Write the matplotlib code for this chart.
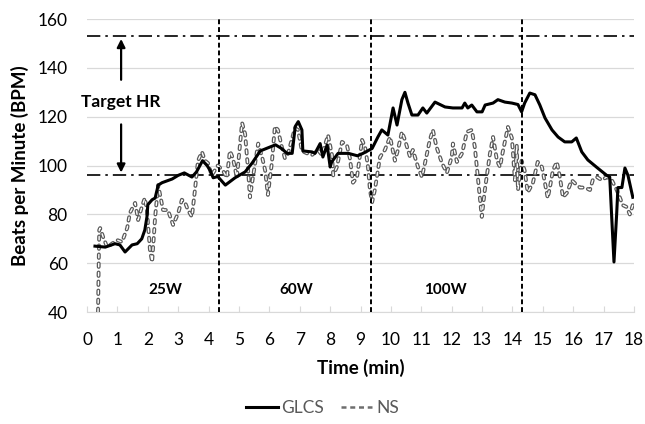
import matplotlib
matplotlib.use("Agg")
import matplotlib.pyplot as plt
import matplotlib.patheffects as pe
from matplotlib.lines import Line2D

plt.rcParams['font.family'] = ['Lato', 'DejaVu Sans']

# GLCS (solid) heart-rate series
glcs_t = [0.26, 0.6, 0.92, 1.08, 1.25, 1.48, 1.65, 1.8, 1.9, 1.97, 2.0, 2.14, 2.24, 2.34, 2.47,
          2.8, 3.0, 3.2, 3.45, 3.6, 3.8, 3.95, 4.05, 4.15, 4.3, 4.55, 4.87, 5.2, 5.43, 5.7,
          5.9, 6.2, 6.4, 6.58, 6.75, 6.85, 6.95, 7.07, 7.1, 7.4, 7.5, 7.67, 7.76, 7.9, 8.0,
          8.05, 8.26, 8.6, 8.9, 9.08, 9.38, 9.57, 9.7, 9.9, 10.07, 10.2, 10.36, 10.46, 10.56,
          10.69, 10.89, 11.05, 11.18, 11.45, 11.78, 12.04, 12.34, 12.43, 12.53, 12.66, 12.83,
          13.0, 13.1, 13.36, 13.52, 13.75, 13.98, 14.18, 14.3, 14.4, 14.57, 14.74, 14.9, 15.07,
          15.3, 15.5, 15.72, 15.95, 16.1, 16.28, 16.48, 16.8, 17.1, 17.2, 17.27, 17.34, 17.43,
          17.47, 17.6, 17.7, 17.8, 17.96]
glcs_hr = [67, 66.6, 68, 67.5, 64.6, 67.5, 68, 70, 73.6, 79, 84, 86, 86.7, 92, 93,
           94.5, 96, 97, 95.3, 97.4, 102, 100, 98, 95, 95.5, 92, 95, 97.4, 101, 106,
           107, 108.5, 107, 105, 105, 116, 118, 114.6, 106, 105.6, 105, 109, 103.5, 108.4, 99.4,
           101.5, 105, 105, 104, 105, 107, 111.7, 114.6, 112.5, 123.6, 116.6, 127, 130, 125.6,
           120.7, 120.7, 123.6, 121.5, 126, 124, 123.6, 123.6, 125.6, 123.6, 124.8, 122,
           122, 124.8, 125.6, 127, 126, 125.6, 125, 122, 125.6, 129.7, 129, 124.8, 119.5,
           114.6, 111.7, 109.7, 109.7, 111.3, 105.6, 102.3, 99, 96, 95.3, 77.7, 60.5, 80.6,
           91, 91, 99, 96, 87]

# NS (dashed) heart-rate series
ns_t = [0.36, 0.4, 0.43, 0.53, 0.66, 0.82, 0.99, 1.15, 1.32, 1.41, 1.58, 1.68, 1.8, 1.9, 1.97,
        2.07, 2.14, 2.24, 2.34, 2.5, 2.66, 2.83, 3.0, 3.12, 3.22, 3.32, 3.45, 3.55, 3.65, 3.78,
        3.88, 3.98, 4.1, 4.2, 4.3, 4.47, 4.6, 4.7, 4.8, 4.93, 5.1, 5.2, 5.3, 5.36, 5.46, 5.63,
        5.76, 5.86, 5.95, 6.08, 6.18, 6.28, 6.41, 6.51, 6.6, 6.84, 6.94, 7.07, 7.24, 7.4, 7.6,
        7.73, 7.93, 8.06, 8.1, 8.22, 8.39, 8.55, 8.65, 8.75, 8.88, 9.05, 9.15, 9.24, 9.31, 9.38,
        9.47, 9.64, 9.8, 9.97, 10.13, 10.23, 10.36, 10.46, 10.63, 10.72, 10.89, 11.02, 11.12,
        11.28, 11.38, 11.5, 11.68, 11.84, 12.0, 12.04, 12.17, 12.34, 12.5, 12.66, 12.76, 12.86,
        12.99, 13.09, 13.26, 13.36, 13.49, 13.59, 13.68, 13.85, 13.98, 14.08, 14.14, 14.18, 14.3,
        14.4, 14.5, 14.67, 14.83, 14.97, 15.07, 15.16, 15.23, 15.33, 15.46, 15.56, 15.66, 15.79,
        15.95, 16.05, 16.22, 16.38, 16.55, 16.64, 16.78, 16.94, 17.1, 17.27, 17.43, 17.53, 17.63,
        17.76, 17.86, 17.96]
ns_hr = [40, 73.6, 74.4, 70.7, 66.6, 68, 69.5, 68.7, 74.4, 80.6, 84.7, 77.7, 83, 86.7, 81.8,
         65.4, 60.5, 79, 92, 81.8, 81.8, 75.7, 80.6, 86, 85, 81.8, 79, 90, 102, 105.6,
         102, 101, 96, 98, 100, 98, 95, 106, 103, 95, 117.5, 113, 98, 87, 95.3, 109,
         103.5, 98, 88, 101, 116, 114.6, 107.6, 103, 104.3, 115.4, 114.6, 106, 105, 104.3, 106.4,
         104.3, 112.5, 104.3, 96, 99.4, 109.7, 108.4, 103, 93, 95, 110.5, 107.6, 100, 90, 85,
         90, 103.5, 106.4, 111.7, 102, 106.4, 113.8, 110.5, 103.5, 106.4, 99.4, 95.3, 101,
         110.5, 114.6, 107.6, 101, 97, 103.5, 109, 101.5, 105, 113.8, 114.6, 107.6, 95.3,
         79, 90, 105, 111.7, 102, 99.4, 105.6, 115.8, 111.3, 94, 108.4, 90, 102,
         98, 89, 92.8, 101.5, 99.4, 92.8, 86.7, 91, 98, 101.5, 95.3, 87, 88.8,
         94, 92.8, 91, 91, 90, 94, 95.3, 94, 95.3, 94, 90, 87, 83.8,
         83, 80, 83.8]

target_hr = [96, 153]
stage_bounds = [4.35, 9.35, 14.3]
stage_labels = ["25W", "60W", "100W"]
stage_label_x = [2.57, 6.9, 11.8]

fig = plt.figure(figsize=(6.45, 4.24), dpi=100)
ax = fig.add_axes([0.135, 0.264, 0.848, 0.691])

ax.set_xlim(0, 18)
ax.set_ylim(40, 160)
ax.set_xticks(range(0, 19))
ax.set_yticks(range(40, 161, 20))
ax.grid(axis='y', color='#d9d9d9', lw=0.9)
ax.set_axisbelow(True)
for s in ['top', 'right', 'left']:
    ax.spines[s].set_visible(False)
ax.spines['bottom'].set_color('#d9d9d9')
ax.tick_params(axis='y', length=0, labelsize=12.5, pad=14)
ax.tick_params(axis='x', length=4, direction='in', color='#d9d9d9', labelsize=12.5, pad=14)

# NS dashed with outlined look
ax.plot(ns_t, ns_hr, color='white', lw=1.0, linestyle=(0, (2.5, 4)),
        dash_capstyle='round', dash_joinstyle='round',
        path_effects=[pe.Stroke(linewidth=2.8, foreground='#5a5a5a'), pe.Normal()], zorder=3)
ax.plot(glcs_t, glcs_hr, color='black', lw=2.2, zorder=4)

for y in target_hr:
    ax.axhline(y, color='black', lw=1.2, linestyle=(0, (8, 3, 1.5, 3)), zorder=2)
for x in stage_bounds:
    ax.axvline(x, color='black', lw=1.4, linestyle=(0, (2.5, 1.5)), zorder=5)
for x, lab in zip(stage_label_x, stage_labels):
    ax.text(x, 49, lab, ha='center', va='center', fontsize=11, fontweight='bold')

ax.text(1.12, 126, "Target HR", ha='center', va='center', fontsize=12.5, fontweight='bold')
ax.annotate("", xy=(1.12, target_hr[1]), xytext=(1.12, 134),
            arrowprops=dict(arrowstyle='-|>', color='black', lw=1.6, mutation_scale=12))
ax.annotate("", xy=(1.12, target_hr[0]), xytext=(1.12, 118),
            arrowprops=dict(arrowstyle='-|>', color='black', lw=1.6, mutation_scale=12))

ax.set_xlabel("Time (min)", fontsize=13.5, fontweight='bold', labelpad=8)
ax.set_ylabel("Beats per Minute (BPM)", fontsize=13.5, fontweight='bold', labelpad=6)

handles = [Line2D([], [], color='black', lw=2.2),
           Line2D([], [], color='#6e6e6e', lw=1.8, linestyle=(0, (2, 1.5)))]
fig.legend(handles, ["GLCS", "NS"], loc='center', bbox_to_anchor=(0.5, 0.037), ncol=2,
           frameon=False, fontsize=12.5, handlelength=1.8, handletextpad=0.2, columnspacing=1.0,
           labelcolor='#595959')

fig.savefig("out.png", dpi=100)
